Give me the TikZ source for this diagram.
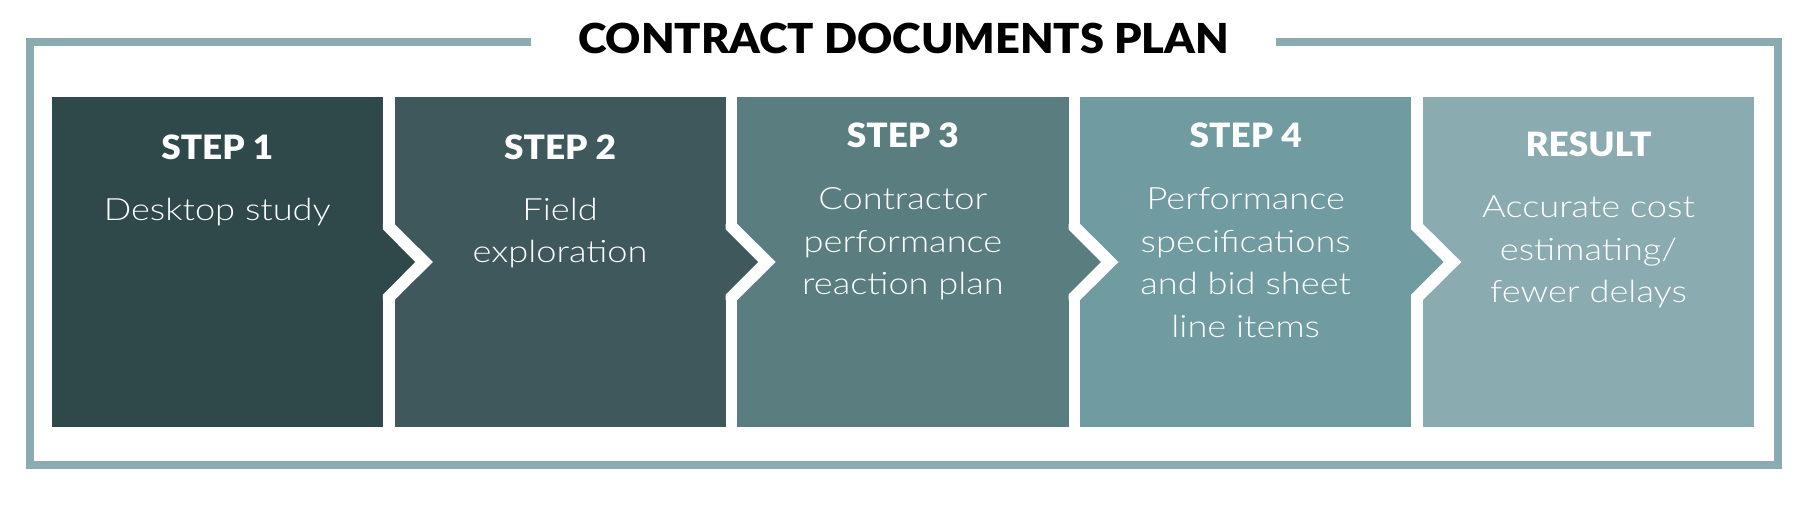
\documentclass[tikz,border=0pt]{standalone}
\usepackage{fontspec}
\setmainfont{Lato}
\newfontfamily\headfont{Lato}[UprightFont={* Black}, FakeStretch=1.05]
\newfontfamily\lightfont{Lato}[UprightFont={* Light}, FakeStretch=1.18]
\tikzset{
  stepbox/.style={inner sep=0, outer sep=0, minimum width=331.2pt, minimum height=330pt, anchor=north west},
  stephead/.style={inner sep=0, outer sep=0, anchor=base, white, font=\headfont\fontsize{33.5pt}{33.5pt}\selectfont},
  steptext/.style={inner sep=0, outer sep=0, anchor=base, white, align=center, font=\lightfont\fontsize{30.7pt}{42.5pt}\selectfont},
  frameline/.style={line width=7.7pt, custcol_frame, line cap=butt, line join=miter},
}
\begin{document}
\begin{tikzpicture}[x=1pt,y=-1pt]
\useasboundingbox (0,0) rectangle (1800,528);
\definecolor{custcol_frame}{RGB}{138, 172, 176}
\definecolor{custcol_s1}{RGB}{47, 73, 75}
\definecolor{custcol_s2}{RGB}{63, 88, 92}
\definecolor{custcol_s3}{RGB}{90, 126, 128}
\definecolor{custcol_s4}{RGB}{112, 155, 160}
\definecolor{custcol_s5}{RGB}{138, 171, 175}
\node[inner xsep=47pt, inner ysep=0, anchor=base, font=\headfont\fontsize{41.3pt}{41.3pt}\selectfont] (title) at (903.5,53.3) {CONTRACT DOCUMENTS PLAN};
\coordinate (frametop) at (0,41.7);
\draw[frameline] (title.west |- frametop) -- (29.85,41.7) -- (29.85,465.15) -- (1777.85,465.15) -- (1777.85,41.7) -- (title.east |- frametop);
\node[stepbox, fill=custcol_s1] (step1) at (51.7,97) {};
\node[stepbox, fill=custcol_s2] (step2) at (394.5,97) {};
\node[stepbox, fill=custcol_s3] (step3) at (737.3,97) {};
\node[stepbox, fill=custcol_s4] (step4) at (1080.1,97) {};
\node[stepbox, fill=custcol_s5] (result) at (1422.9,97) {};
\fill[white] ([yshift=38pt]step1.east) -- ([yshift=38pt]step2.west) -- ([xshift=38.4pt]step2.west) -- ([yshift=-38pt]step2.west) -- ([yshift=-38pt]step1.east) -- cycle;
\fill[white] ([yshift=38pt]step2.east) -- ([yshift=38pt]step3.west) -- ([xshift=38.4pt]step3.west) -- ([yshift=-38pt]step3.west) -- ([yshift=-38pt]step2.east) -- cycle;
\fill[white] ([yshift=38pt]step3.east) -- ([yshift=38pt]step4.west) -- ([xshift=38.4pt]step4.west) -- ([yshift=-38pt]step4.west) -- ([yshift=-38pt]step3.east) -- cycle;
\fill[white] ([yshift=38pt]step4.east) -- ([yshift=38pt]result.west) -- ([xshift=38.4pt]result.west) -- ([yshift=-38pt]result.west) -- ([yshift=-38pt]step4.east) -- cycle;
\fill[custcol_s1] ([xshift=-1pt,yshift=33.4pt]step1.east) -- ([xshift=32.3pt]step1.east) -- ([xshift=-1pt,yshift=-33.4pt]step1.east) -- cycle;
\fill[custcol_s2] ([xshift=-1pt,yshift=33.4pt]step2.east) -- ([xshift=32.3pt]step2.east) -- ([xshift=-1pt,yshift=-33.4pt]step2.east) -- cycle;
\fill[custcol_s3] ([xshift=-1pt,yshift=33.4pt]step3.east) -- ([xshift=32.3pt]step3.east) -- ([xshift=-1pt,yshift=-33.4pt]step3.east) -- cycle;
\fill[custcol_s4] ([xshift=-1pt,yshift=33.4pt]step4.east) -- ([xshift=32.3pt]step4.east) -- ([xshift=-1pt,yshift=-33.4pt]step4.east) -- cycle;
\node[stephead] (head1) at (217.3,159) {STEP 1};
\node[stephead] (head2) at (560.1,159) {STEP 2};
\node[stephead] (head3) at (902.9,147.5) {STEP 3};
\node[stephead] (head4) at (1245.7,147.5) {STEP 4};
\node[stephead] (head5) at (1588.5,156.7) {RESULT};
\node[steptext] (text1) at (217.3,220) {Desktop study};
\node[steptext] (text2) at (560.1,262.5) {Field\\exploration};
\node[steptext] (text3) at (902.9,294.7) {Contractor\\performance\\reaction plan};
\node[steptext] (text4) at (1245.7,337.2) {Performance\\specifications\\and bid sheet\\line items};
\node[steptext] (text5) at (1588.5,302.7) {Accurate cost\\estimating/\\fewer delays};
\end{tikzpicture}
\end{document}
